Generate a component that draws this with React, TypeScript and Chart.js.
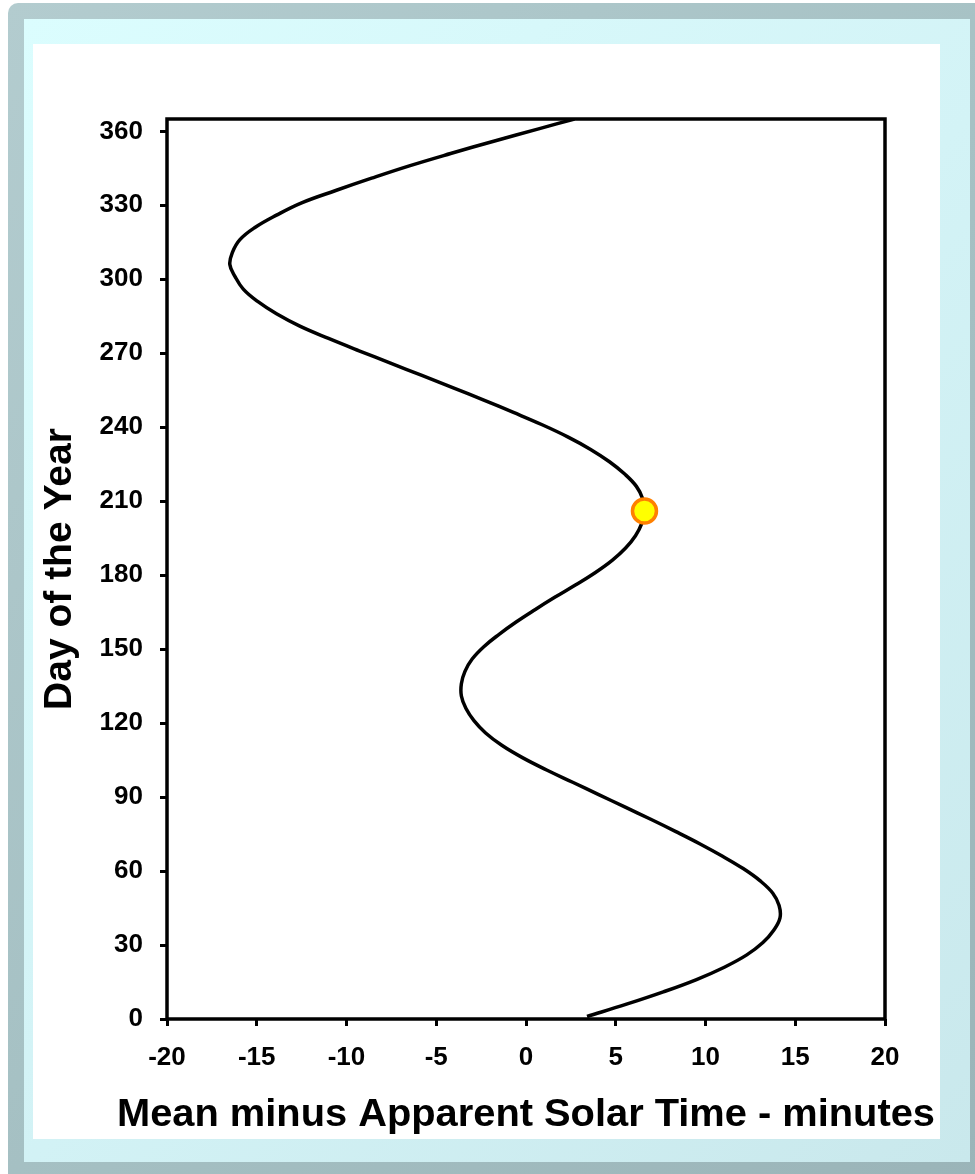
import React, { useEffect, useRef } from "react";
import { Chart, registerables } from "chart.js";

Chart.register(...registerables);

// Day of the year
const DAYS = [
  1, 6, 11, 16, 21, 26, 31, 36, 41, 46, 51, 56, 61, 66, 71, 76, 81, 86, 91, 96,
  101, 106, 111, 116, 121, 126, 131, 136, 141, 146, 151, 156, 161, 166, 171, 176,
  181, 186, 191, 196, 201, 206, 211, 216, 221, 226, 231, 236, 241, 246, 251, 256,
  261, 266, 271, 276, 281, 286, 291, 296, 301, 306, 311, 316, 321, 326, 331, 336,
  341, 346, 351, 356, 361, 365,
];

// Mean minus apparent solar time (minutes)
const MINUTES = [
  3.4, 5.6, 7.65, 9.5, 11.05, 12.3, 13.2, 13.8, 14.15, 14.1, 13.75, 13.05, 12.1,
  10.95, 9.7, 8.35, 6.95, 5.5, 4.05, 2.6, 1.15, -0.2, -1.35, -2.25, -2.9, -3.35,
  -3.6, -3.6, -3.4, -3.0, -2.35, -1.5, -0.55, 0.5, 1.6, 2.75, 3.85, 4.8, 5.55,
  6.1, 6.45, 6.6, 6.5, 6.15, 5.5, 4.65, 3.6, 2.35, 0.9, -0.7, -2.35, -4.05, -5.8,
  -7.55, -9.3, -11.0, -12.6, -13.9, -14.95, -15.75, -16.2, -16.5, -16.35, -15.95,
  -15.1, -13.9, -12.5, -10.6, -8.6, -6.5, -4.2, -1.8, 0.7, 2.7,
];

// Highlighted point
const MARKER_DAY = [206];
const MARKER_MINUTES = [6.6];

const Y_TICKS = [0, 30, 60, 90, 120, 150, 180, 210, 240, 270, 300, 330, 360];
const X_TICKS = [-20, -15, -10, -5, 0, 5, 10, 15, 20];

const X_TITLE = "Mean minus Apparent Solar Time - minutes";
const Y_TITLE = "Day of the Year";

const FONT_FAMILY = "'Liberation Sans', Arial, Helvetica, sans-serif";

const frameBorder = {
  id: "frameBorder",
  beforeDatasetsDraw(chart: any) {
    const { ctx, chartArea } = chart;
    ctx.save();
    ctx.strokeStyle = "#000";
    ctx.lineWidth = 3.5;
    ctx.strokeRect(
      chartArea.left,
      chartArea.top,
      chartArea.right - chartArea.left,
      chartArea.bottom - chartArea.top
    );
    ctx.restore();
  },
};

// x-axis title drawn slightly widened, as in the original picture
const xTitlePlugin = {
  id: "xTitlePlugin",
  afterDraw(chart: any) {
    const { ctx, chartArea } = chart;
    ctx.save();
    ctx.font = `bold 39px ${FONT_FAMILY}`;
    ctx.fillStyle = "#000";
    ctx.textAlign = "center";
    ctx.textBaseline = "alphabetic";
    const w = ctx.measureText(X_TITLE).width;
    const sx = 818 / w;
    const cx = 493;
    ctx.translate(cx, chartArea.bottom + 107);
    ctx.scale(sx, 1);
    ctx.fillText(X_TITLE, 0, 0);
    ctx.restore();
  },
};

export default function App() {
  const canvasRef = useRef<HTMLCanvasElement | null>(null);

  useEffect(() => {
    const canvas = canvasRef.current;
    if (!canvas) return;
    const curve = DAYS.map((d, i) => ({ x: MINUTES[i], y: d }));
    const marker = MARKER_DAY.map((d, i) => ({ x: MARKER_MINUTES[i], y: d }));
    const chart = new Chart(canvas, {
      type: "scatter",
      data: {
        datasets: [
          {
            data: marker,
            order: 0,
            pointRadius: 12,
            pointBackgroundColor: "#ffff00",
            pointBorderColor: "#ff8000",
            pointBorderWidth: 3.5,
            showLine: false,
          },
          {
            data: curve,
            order: 1,
            showLine: true,
            borderColor: "#000",
            borderWidth: 3.5,
            pointRadius: 0,
            tension: 0.4,
            fill: false,
          },
        ],
      },
      options: {
        animation: false,
        responsive: false,
        maintainAspectRatio: false,
        events: [],
        layout: { padding: { left: 0, top: 75, right: 55, bottom: 0 } },
        plugins: {
          legend: { display: false },
          tooltip: { enabled: false },
        },
        scales: {
          x: {
            type: "linear",
            position: "bottom",
            min: -20,
            max: 20,
            afterBuildTicks: (scale: any) => {
              scale.ticks = X_TICKS.map((v) => ({ value: v }));
            },
            afterFit: (scale: any) => {
              scale.height = 120;
            },
            ticks: {
              color: "#000",
              font: { family: FONT_FAMILY, size: 26, weight: "bold" },
              padding: 16,
              maxRotation: 0,
            },
            grid: {
              drawOnChartArea: false,
              drawTicks: true,
              tickLength: 7,
              color: "#000",
              lineWidth: 3,
            },
            border: { display: false },
            title: { display: false, text: X_TITLE },
          },
          y: {
            type: "linear",
            position: "left",
            min: 0,
            max: 365,
            afterBuildTicks: (scale: any) => {
              scale.ticks = Y_TICKS.map((v) => ({ value: v }));
            },
            afterFit: (scale: any) => {
              scale.width = 134;
            },
            ticks: {
              color: "#000",
              font: { family: FONT_FAMILY, size: 26, weight: "bold" },
              padding: 17,
            },
            grid: {
              drawOnChartArea: false,
              drawTicks: true,
              tickLength: 7,
              color: "#000",
              lineWidth: 3,
            },
            border: { display: false },
            title: {
              display: true,
              text: Y_TITLE,
              color: "#000",
              font: { family: FONT_FAMILY, size: 39, weight: "bold" },
              padding: { top: 4, bottom: 0 },
            },
          },
        },
      },
      plugins: [frameBorder, xTitlePlugin],
    });
    return () => chart.destroy();
  }, []);

  return (
    <div
      style={{
        position: "fixed",
        left: 0,
        top: 0,
        width: 975,
        height: 1174,
        overflow: "hidden",
        background: "#fff",
      }}
    >
      <div
        style={{
          position: "absolute",
          left: 8,
          top: 3,
          width: 985,
          height: 1185,
          borderRadius: 10,
          background: "linear-gradient(135deg, #b3cccf 0%, #a6c1c4 50%, #9ab4b8 100%)",
        }}
      >
        <div
          style={{
            position: "absolute",
            left: 16,
            top: 16,
            width: 946,
            height: 1143,
            background: "linear-gradient(135deg, #dbfdfe 0%, #d3f3f6 50%, #c9e8ec 100%)",
          }}
        >
          <div
            style={{
              position: "absolute",
              left: 9,
              top: 25,
              width: 907,
              height: 1095,
              background: "#fff",
            }}
          >
            <canvas
              ref={canvasRef}
              width={907}
              height={1095}
              style={{ display: "block", width: 907, height: 1095 }}
            />
          </div>
        </div>
      </div>
    </div>
  );
}
